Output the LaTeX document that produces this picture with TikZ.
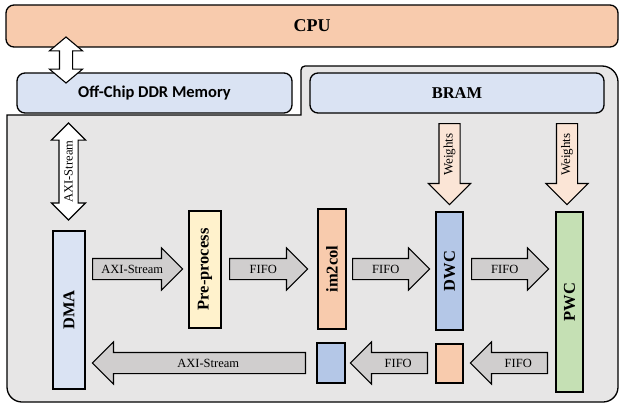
\documentclass[tikz,border=0pt]{standalone}
\usepackage{fontspec}
\setmainfont{Liberation Serif}
\newfontfamily\labelsans{Carlito}
\usetikzlibrary{shapes.arrows}

\definecolor{cpuorange}{HTML}{F8CBAD}
\definecolor{memblue}{HTML}{DAE3F3}
\definecolor{boardgray}{HTML}{E7E6E6}
\definecolor{flowgray}{HTML}{D0CECE}
\definecolor{preyellow}{HTML}{FFF2CC}
\definecolor{dwcblue}{HTML}{B4C7E7}
\definecolor{pwcgreen}{HTML}{C5E0B4}
\definecolor{weightpeach}{HTML}{FBE5D6}

\tikzset{
  unit/.style={draw=black, line width=1.3pt, inner sep=0pt,
    font=\fontsize{16.5}{18}\selectfont\bfseries},
  flow/.style={single arrow, draw=black, line width=1.1pt, fill=flowgray,
    single arrow head extend=10.5pt, single arrow tip angle=90,
    inner xsep=0pt, inner ysep=5.85pt, text height=8.3pt, text depth=0pt,
    font=\fontsize{12.5}{14}\selectfont, anchor=tail},
  toright/.style={flow},
  toleft/.style={flow, shape border rotate=180},
  weightflow/.style={flow, fill=weightpeach, rotate=90, shape border rotate=180,
    font=\fontsize{13}{15}\selectfont, text height=9pt, text depth=2.8pt,
    inner ysep=4.1pt, minimum height=81pt},
  twoway/.style={double arrow, draw=black, line width=1.1pt, fill=white,
    rotate=90, inner xsep=0pt, text depth=0pt}
}

\begin{document}
\begin{tikzpicture}[x=1pt, y=-1pt]
\useasboundingbox (0,0) rectangle (620,404);

% programmable-logic region
\draw[line width=1.3pt, fill=boardgray]
  (7,115) -- (301,115) -- (301,70)
  .. controls (301,67.8) and (302.8,66) .. (305,66) -- (602,66)
  .. controls (610.8,66) and (618,73.2) .. (618,82) -- (618,387)
  .. controls (618,395.3) and (611.3,402) .. (603,402) -- (22,402)
  .. controls (13.7,402) and (7,395.3) .. (7,387) -- cycle;

% memories and processor
\node[unit, fill=cpuorange, rounded corners=8pt, minimum width=612pt,
  minimum height=42pt, font=\fontsize{18}{20}\selectfont\bfseries] (cpu) at (312,26) {CPU};
\node[unit, fill=memblue, rounded corners=8pt, minimum width=275pt,
  minimum height=40pt, font=\labelsans\fontsize{16.5}{18}\selectfont\bfseries] (ddr) at (154.5,93) {Off-Chip DDR Memory};
\node[unit, fill=memblue, rounded corners=8pt, minimum width=294pt,
  minimum height=40pt] (bram) at (457,93) {BRAM};

% processing blocks
\node[unit, fill=memblue, minimum width=32pt, minimum height=158pt] (dma) at (69,310) {\rotatebox{90}{DMA}};
\node[unit, fill=preyellow, minimum width=32pt, minimum height=117pt] (pre) at (205,269.5) {\rotatebox{90}{Pre-process}};
\node[unit, fill=cpuorange, minimum width=28pt, minimum height=120pt] (im2col) at (332,269) {\rotatebox{90}{im2col}};
\node[unit, fill=dwcblue, minimum width=27pt, minimum height=118pt] (dwc) at (449.5,271) {\rotatebox{90}{DWC}};
\node[unit, fill=pwcgreen, minimum width=27pt, minimum height=180pt] (pwc) at (569.5,302) {\rotatebox{90}{PWC}};
\node[unit, fill=cpuorange, minimum width=27pt, minimum height=39pt] (bufa) at (449.5,363.5) {};
\node[unit, fill=dwcblue, minimum width=28pt, minimum height=40pt] (bufb) at (331,363) {};

% forward data path
\node[toright, minimum height=90pt] (s1) at (92,269) {AXI-Stream\hspace{8pt}};
\node[toright, minimum height=78pt] (s2) at (229,269) {FIFO\hspace{8pt}};
\node[toright, minimum height=77pt] (s3) at (352,269) {FIFO\hspace{8pt}};
\node[toright, minimum height=77pt] (s4) at (471,269) {FIFO\hspace{8pt}};

% return data path
\node[toleft, minimum height=77pt] (r1) at (548,363) {\hspace{8pt}FIFO};
\node[toleft, minimum height=77pt] (r2) at (428,363) {\hspace{8pt}FIFO};
\node[toleft, minimum height=213pt] (r3) at (306,363) {\hspace{8pt}AXI-Stream};

% weights from BRAM
\node[weightflow] (w1) at (449.5,123) {\hspace{8pt}Weights};
\node[weightflow] (w2) at (567,123) {\hspace{8pt}Weights};

% bidirectional links
\node[twoway, minimum height=97pt, double arrow head extend=7.5pt,
  double arrow tip angle=90, text height=8.3pt, inner ysep=4.85pt,
  font=\fontsize{12.5}{14}\selectfont] (axi) at (68.5,171.5) {AXI-Stream};
\node[twoway, minimum height=46pt, double arrow head extend=10pt,
  double arrow tip angle=100, text height=0pt, inner ysep=6pt] (cpuddr) at (66,60) {};
\end{tikzpicture}
\end{document}
